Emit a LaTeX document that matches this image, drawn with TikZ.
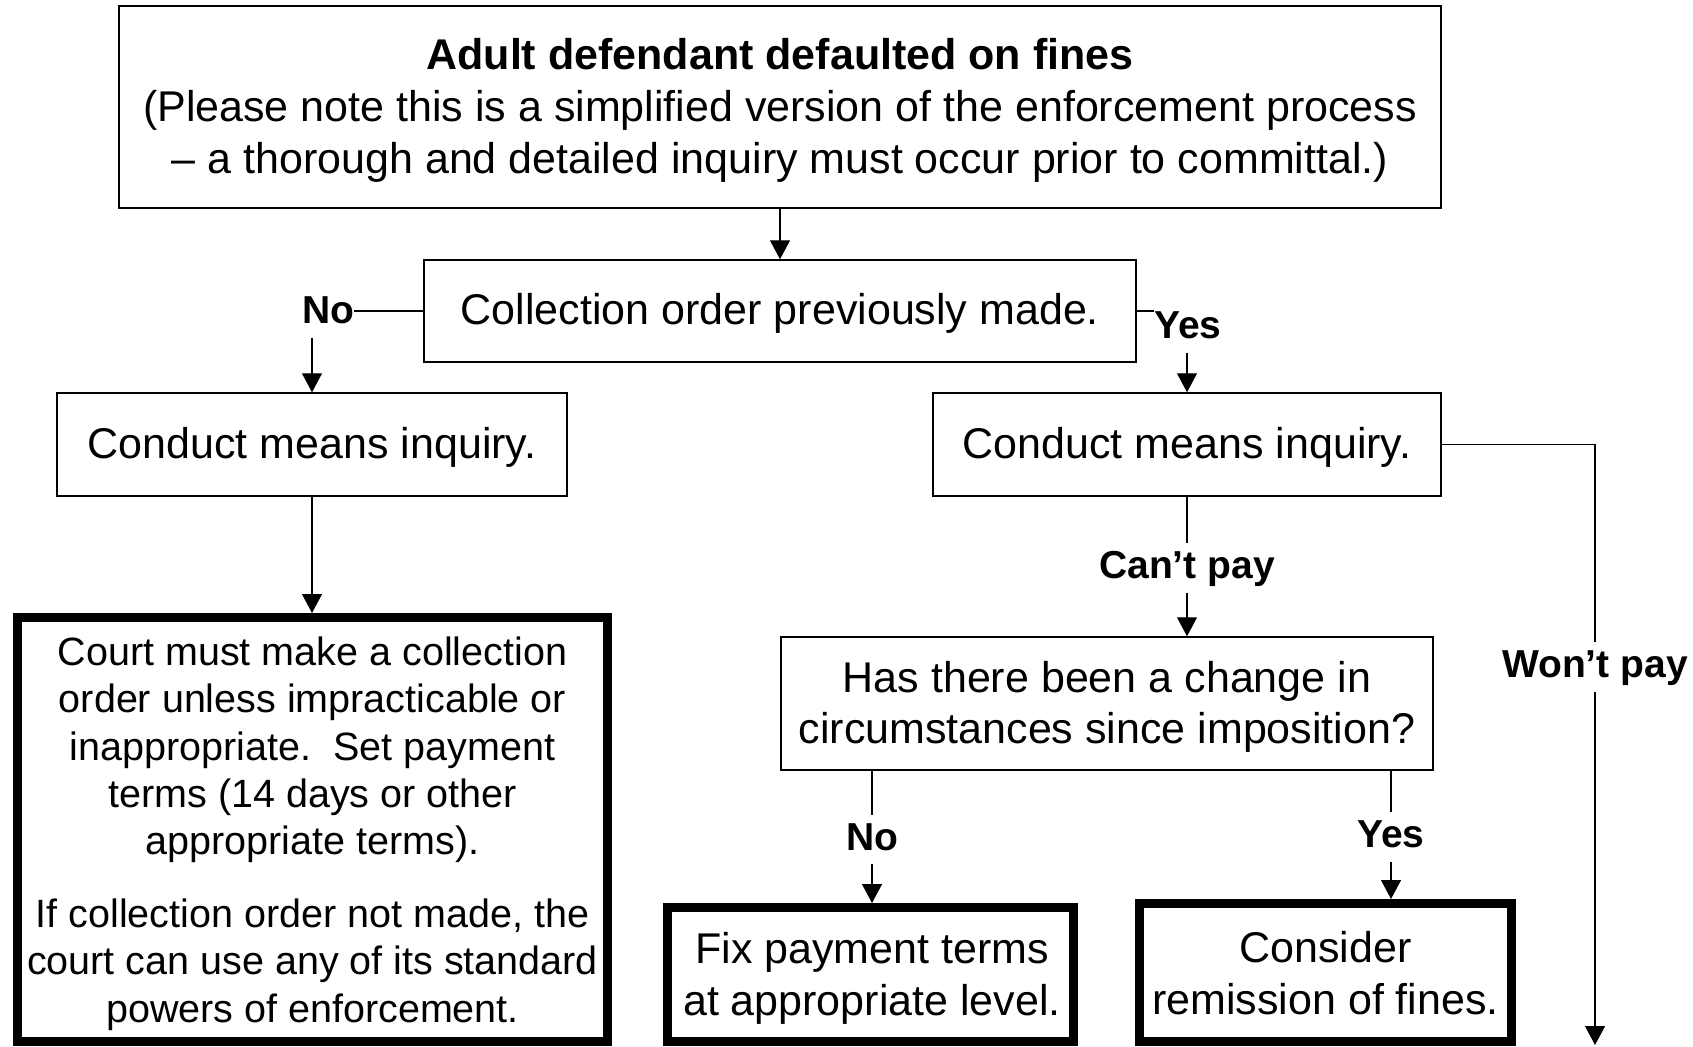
\documentclass[tikz,border=0pt]{standalone}
\usepackage{fontspec}
\setmainfont{Liberation Sans}
\usetikzlibrary{arrows.meta}
\begin{document}
\begin{tikzpicture}[x=1pt,y=-1pt,
  box/.style={draw, line width=1.5pt, inner sep=0pt},
  heavybox/.style={box, line width=9pt},
  txt/.style={inner sep=0pt, align=center, font=\fontsize{43}{52}\selectfont},
  lbl/.style={inner xsep=0pt, inner ysep=6pt, text height=29pt, text depth=8pt, font=\fontsize{39}{45}\selectfont\bfseries},
  conn/.style={line width=1.3pt},
  arr/.style={conn, -{Triangle[length=19pt,width=20pt]}}
]
\useasboundingbox (0,0) rectangle (1693,1046);
% boxes
\node[box, minimum width=1322pt, minimum height=202pt] (top) at (780,107) {};
\node[box, minimum width=712pt, minimum height=102pt] (coll) at (780,311) {};
\node[box, minimum width=510pt, minimum height=103pt] (lc) at (312,444.5) {};
\node[box, minimum width=508pt, minimum height=103pt] (rc) at (1187,444.5) {};
\node[heavybox, minimum width=590pt, minimum height=423.5pt] (court) at (312.5,829.25) {};
\node[box, minimum width=652pt, minimum height=133pt] (has) at (1107,703.5) {};
\node[heavybox, minimum width=406pt, minimum height=133.5pt] (fix) at (870.5,974.25) {};
\node[heavybox, minimum width=372pt, minimum height=137.5pt] (cons) at (1325.5,972.25) {};
% box texts
\node[txt] (top-t) at ([yshift=-3.5pt]top.center)
  {\textbf{Adult defendant defaulted on fines}\\(Please note this is a simplified version of the enforcement process\\– a thorough and detailed inquiry must occur prior to committal.)};
\node[txt] (coll-t) at ([yshift=-2.5pt]coll.center) {Collection order previously made.};
\node[txt] (lc-t) at ([yshift=-2.5pt]lc.center) {Conduct means inquiry.};
\node[txt] (rc-t) at ([yshift=-2.5pt]rc.center) {Conduct means inquiry.};
\node[txt, font=\fontsize{39.5}{47.4}\selectfont] (court-t) at ([yshift=-4pt]312.5,829.5)
  {Court must make a collection\\order unless impracticable or\\inappropriate.\ \ Set payment\\terms (14 days or other\\appropriate terms).\\[25pt]If collection order not made, the\\court can use any of its standard\\powers of enforcement.};
\node[txt, font=\fontsize{43}{51}\selectfont] (has-t) at ([yshift=-3.5pt]has.center)
  {Has there been a change in\\circumstances since imposition?};
\node[txt] (fix-t) at ([yshift=-4pt]872,974) {Fix payment terms\\at appropriate level.};
\node[txt] (cons-t) at ([yshift=-2pt]1325.5,971) {Consider\\remission of fines.};
% labels
\node[lbl] (no1) at (328,313) {No};
\node[lbl] (yes1) at (1188,328) {Yes};
\node[lbl] (cant) at (1187,568) {Can’t pay};
\node[lbl] (no2) at (872,839.5) {No};
\node[lbl] (yes2) at (1391,837) {Yes};
\node[lbl] (wont) at (1595,667) {Won’t pay};
\coordinate (wend) at (1595,1045);
% connectors
\draw[arr] (top.south -| coll.north) -- (coll.north);
\draw[conn] (coll.west) -- (no1.east |- coll.west);
\draw[arr] (no1.south -| lc.north) -- (lc.north);
\draw[conn] (coll.east) -- (yes1.west |- coll.east);
\draw[arr] (yes1.south -| rc.north) -- (rc.north);
\draw[arr] (lc.south) -- (lc.south |- court.north);
\draw[conn] (rc.south) -- (cant.north);
\draw[arr] (cant.south) -- (cant.south |- has.north);
\draw[conn] (no2.north |- has.south) -- (no2.north);
\draw[arr] (no2.south) -- (no2.south |- fix.north);
\draw[conn] (yes2.north |- has.south) -- (yes2.north);
\draw[arr] (yes2.south) -- (yes2.south |- cons.north);
\draw[conn] (rc.east) -| (wont.north);
\draw[arr] (wont.south) -- (wend);
\end{tikzpicture}
\end{document}
